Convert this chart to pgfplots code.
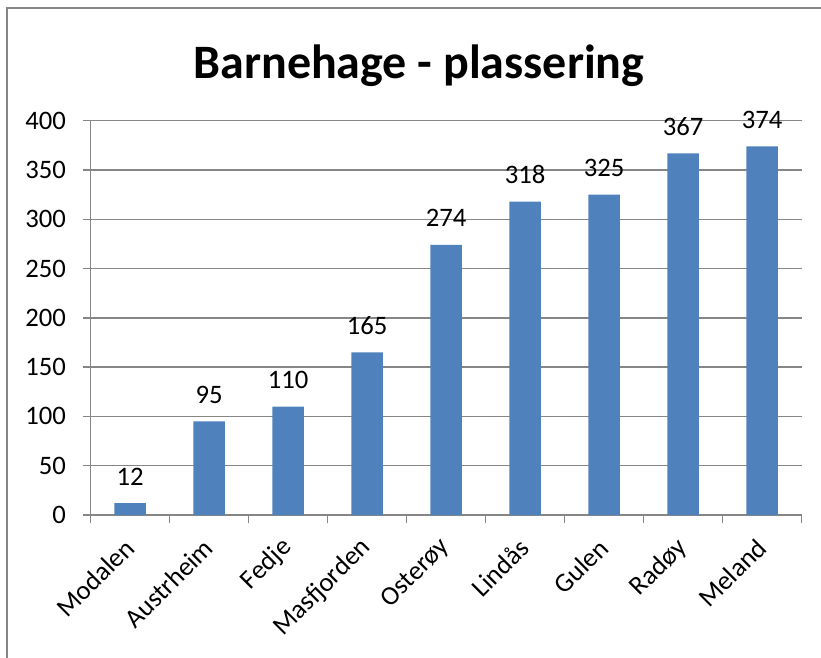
\documentclass[border=0pt]{standalone}
\usepackage{fontspec}
\setmainfont{Carlito}
\usepackage{pgfplots}
\pgfplotsset{compat=1.18}
\definecolor{barblue}{HTML}{4F81BD}
\definecolor{gridgray}{HTML}{868686}

\begin{document}
\begin{tikzpicture}
\useasboundingbox (0,0) rectangle (615.75pt,492.75pt);
% outer chart frame (cropped at right and bottom)
\begin{scope}
\clip (0,0) rectangle (615.75pt,492.75pt);
\draw[gridgray, line width=1.5pt] (5.25pt,-10pt) -- (5.25pt,486.75pt) -- (630pt,486.75pt);
\end{scope}
\node[font=\fontsize{36}{40}\selectfont\bfseries, anchor=base] at (314.25pt,433.5pt) {Barnehage - plassering};
\begin{axis}[
  at={(68.03pt,106.5pt)}, anchor=south west,
  scale only axis,
  width=533.25pt, height=295.7pt,
  xmin=-0.5, xmax=8.5,
  ymin=0, ymax=400,
  ytick={0,50,...,400},
  xtick=data,
  xticklabels={Modalen,Austrheim,Fedje,Masfjorden,Osterøy,Lindås,Gulen,Radøy,Meland},
  minor xtick={-0.5,0.5,...,8.5},
  major x tick style={draw=none},
  tick align=outside,
  major tick length=6pt,
  minor tick length=6pt,
  tick style={gridgray, line width=1pt},
  ymajorgrids,
  grid style={gridgray, line width=1pt},
  axis x line*=bottom,
  axis y line*=left,
  axis line style={gridgray, line width=1pt},
  ticklabel style={font=\fontsize{20}{22}\selectfont},
  /pgf/number format/assume math mode=true,
  xticklabel style={xshift=2pt, yshift=-13pt, rotate=45, anchor=east},
  yticklabel style={xshift=-9pt},
  ybar, bar width=23.6pt,
  nodes near coords,
  every node near coord/.append style={font=\fontsize{20}{22}\selectfont, yshift=10pt},
  clip=false,
]
\addplot[fill=barblue, draw=none] coordinates {
  (0,12) (1,95) (2,110) (3,165) (4,274) (5,318) (6,325) (7,367) (8,374)
};
\end{axis}
\end{tikzpicture}
\end{document}
